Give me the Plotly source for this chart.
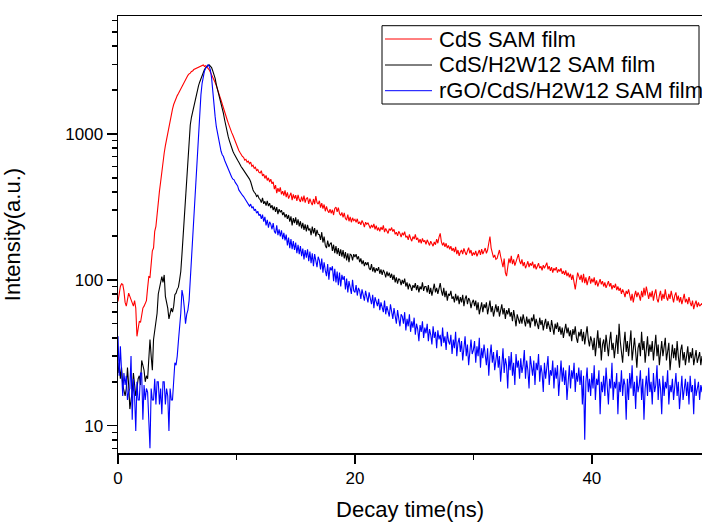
import plotly.graph_objects as go

# ---- data ----
time_step_ns = 0.1
n_points = 500
time_ns = [round(i * time_step_ns, 1) for i in range(n_points)]

series_names = ["CdS SAM film", "CdS/H2W12 SAM film", "rGO/CdS/H2W12 SAM film"]
series_colors = ["#ff0000", "#000000", "#0000ff"]

cds_sam = [
    71, 80, 90, 94, 93, 84, 70, 66, 76, 81,
    77, 73, 70, 66, 72, 64, 41, 46, 52, 51,
    57, 64, 66, 70, 72, 88, 105, 104, 132, 158,
    165, 215, 232, 290, 345, 405, 470, 560, 650, 740,
    830, 920, 1020, 1110, 1230, 1370, 1480, 1590, 1680, 1770,
    1830, 1890, 1960, 2050, 2150, 2220, 2300, 2380, 2450, 2520,
    2580, 2610, 2680, 2700, 2760, 2790, 2820, 2850, 2870, 2880,
    2930, 2960, 2970, 2900, 2930, 2880, 2820, 2750, 2650, 2560,
    2470, 2350, 2250, 2140, 2040, 1950, 1800, 1700, 1590, 1500,
    1420, 1330, 1260, 1190, 1120, 1070, 1020, 980, 930, 880,
    850, 800, 770, 745, 720, 700, 690, 660, 670, 640,
    650, 625, 640, 600, 610, 580, 590, 560, 570, 545,
    540, 560, 515, 530, 495, 520, 480, 500, 468, 490,
    455, 470, 418, 445, 392, 425, 400, 430, 385, 405,
    378, 410, 368, 398, 360, 382, 395, 352, 385, 360,
    380, 348, 382, 355, 342, 372, 345, 378, 338, 362,
    365, 332, 360, 340, 325, 358, 330, 375, 338, 330,
    348, 312, 335, 308, 328, 295, 318, 298, 288, 305,
    285, 302, 278, 308, 315, 292, 312, 285, 276, 290,
    268, 288, 262, 258, 280, 252, 270, 248, 266, 254,
    260, 248, 262, 242, 250, 238, 255, 245, 230, 248,
    240, 246, 232, 225, 238, 228, 242, 222, 235, 218,
    228, 215, 230, 220, 236, 212, 225, 216, 208, 224,
    218, 228, 214, 222, 205, 212, 200, 215, 208, 196,
    210, 202, 214, 195, 200, 188, 205, 192, 184, 198,
    190, 205, 188, 194, 180, 190, 178, 192, 182, 186,
    175, 188, 180, 172, 184, 176, 170, 182, 174, 190,
    178, 196, 208, 182, 172, 180, 168, 178, 165, 172,
    162, 170, 158, 165, 155, 168, 150, 160, 146, 155,
    160, 150, 164, 155, 148, 158, 166, 152, 160, 146,
    154, 148, 158, 145, 152, 160, 148, 162, 150, 156,
    165, 152, 160, 178, 198, 165, 150, 142, 148, 138,
    140, 152, 160, 145, 132, 122, 140, 112, 106, 126,
    140, 130, 146, 128, 138, 125, 132, 142, 150, 135,
    128, 138, 124, 132, 120, 126, 134, 122, 130, 125,
    133, 120, 128, 118, 126, 130, 120, 124, 116, 126,
    120, 128, 131, 118, 124, 115, 122, 112, 120, 116,
    122, 112, 118, 114, 120, 110, 115, 108, 116, 106,
    112, 104, 110, 100, 108, 96, 86, 98, 112, 106,
    100, 108, 96, 110, 95, 104, 92, 100, 106, 94,
    102, 96, 104, 92, 99, 90, 97, 101, 93, 98,
    90, 96, 88, 94, 98, 90, 95, 86, 92, 88,
    94, 85, 90, 84, 88, 80, 86, 82, 76, 84,
    80, 86, 77, 72, 80, 70, 78, 84, 76, 82,
    78, 72, 84, 76, 88, 78, 90, 80, 74, 82,
    76, 84, 72, 80, 86, 74, 70, 78, 84, 72,
    80, 74, 86, 76, 72, 80, 74, 84, 76, 70,
    78, 82, 72, 78, 70, 76, 68, 74, 80, 70,
    74, 68, 76, 70, 66, 72, 63, 68, 72, 65,
    70, 66, 68, 69, 64, 68, 66, 70, 65, 67,
]

cds_h2w12_sam = [
    23, 27, 21, 25, 19, 17, 16, 18, 25, 19,
    13, 15, 17, 23, 19, 16, 18, 21, 22, 19,
    28, 26, 24, 20, 22, 21, 30, 39, 30, 24,
    39, 45, 52, 59, 80, 88, 92, 105, 96, 108,
    77, 70, 64, 54, 60, 64, 60, 66, 79, 81,
    86, 89, 100, 114, 150, 200, 300, 420, 560, 740,
    900, 1150, 1300, 1420, 1560, 1690, 1830, 1990, 2140, 2270,
    2400, 2520, 2640, 2760, 2840, 2900, 2950, 2970, 2930, 2850,
    2700, 2580, 2400, 2180, 2020, 1880, 1760, 1650, 1520, 1380,
    1250, 1130, 1040, 960, 900, 840, 800, 760, 730, 700,
    680, 660, 640, 612, 595, 580, 565, 545, 538, 520,
    508, 490, 470, 430, 413, 398, 390, 372, 380, 362,
    355, 338, 365, 332, 345, 322, 348, 320, 335, 310,
    325, 300, 318, 292, 315, 282, 305, 290, 300, 278,
    290, 268, 282, 262, 278, 250, 272, 236, 265, 245,
    268, 238, 260, 232, 252, 225, 246, 220, 240, 215,
    238, 218, 225, 202, 232, 208, 226, 198, 220, 205,
    204, 188, 212, 180, 198, 172, 165, 186, 168, 176,
    180, 158, 174, 152, 170, 150, 165, 146, 162, 144,
    160, 140, 155, 136, 152, 132, 150, 148, 136, 150,
    143, 150, 138, 145, 132, 140, 128, 136, 124, 132,
    126, 132, 120, 117, 128, 114, 122, 112, 120, 115,
    122, 110, 118, 108, 117, 112, 104, 114, 106, 112,
    103, 110, 100, 108, 96, 104, 94, 102, 100, 92,
    100, 94, 102, 90, 96, 86, 94, 90, 84, 92,
    88, 95, 85, 92, 82, 90, 86, 96, 84, 90,
    90, 82, 92, 80, 88, 78, 86, 94, 82, 88,
    80, 86, 95, 84, 78, 88, 76, 84, 72, 80,
    78, 84, 74, 77, 70, 80, 72, 78, 68, 76,
    70, 79, 66, 74, 78, 68, 75, 72, 64, 70,
    73, 66, 72, 62, 70, 58, 66, 70, 60, 68,
    64, 70, 58, 66, 72, 60, 66, 56, 64, 68,
    60, 66, 56, 62, 68, 58, 64, 54, 62, 58,
    64, 56, 60, 52, 62, 55, 48, 58, 52, 50,
    56, 50, 58, 52, 48, 56, 50, 54, 47, 55,
    52, 58, 48, 54, 50, 46, 55, 49, 53, 45,
    50, 54, 46, 52, 48, 44, 53, 47, 42, 50,
    46, 51, 44, 48, 42, 47, 40, 45, 50, 43,
    47, 41, 45, 38, 46, 42, 48, 40, 37, 44,
    41, 46, 38, 44, 36, 42, 48, 39, 35, 41,
    38, 33, 40, 30, 37, 45, 34, 40, 28, 36,
    39, 32, 42, 35, 30, 38, 44, 33, 37, 29,
    36, 42, 31, 50, 38, 33, 27, 36, 44, 32,
    38, 30, 35, 45, 28, 36, 40, 32, 25, 34,
    37, 30, 44, 33, 38, 27, 35, 41, 30, 36,
    32, 38, 28, 34, 42, 30, 36, 26, 33, 38,
    30, 35, 40, 28, 33, 37, 24, 31, 36, 29,
    34, 28, 38, 30, 25, 33, 36, 28, 32, 26,
    31, 35, 27, 32, 29, 34, 26, 30, 33, 27,
    29, 32, 26, 30, 27, 31, 28, 25, 30, 28,
]

rgo_cds_h2w12_sam = [
    41, 22, 35, 20, 16, 23, 19, 22, 15, 17,
    18, 30, 11, 21, 16, 9.2, 20, 15, 15, 23,
    23, 11, 19, 15, 18, 17, 12, 7, 18, 15,
    15, 21, 14, 20, 20, 14, 18, 12, 20, 20,
    14, 18, 16, 9.2, 18, 15, 15, 22, 27, 26,
    30, 38, 45, 59, 85, 77, 64, 50, 58, 62,
    72, 100, 140, 198, 260, 353, 520, 777, 1050, 1459,
    1850, 2222, 2480, 2700, 2820, 2920, 2970, 2900, 2740, 2420,
    1900, 1650, 1313, 1120, 1000, 910, 830, 760, 720, 700,
    660, 630, 600, 567, 545, 525, 505, 490, 484, 465,
    450, 440, 413, 400, 392, 380, 372, 362, 350, 342,
    335, 320, 330, 310, 318, 298, 305, 286, 295, 275,
    282, 262, 280, 250, 270, 236, 258, 228, 250, 240,
    222, 245, 215, 208, 236, 202, 222, 198, 218, 190,
    210, 186, 204, 172, 195, 165, 190, 162, 184, 160,
    180, 152, 174, 150, 170, 145, 164, 138, 160, 142,
    162, 134, 156, 130, 152, 124, 150, 132, 122, 144,
    136, 118, 140, 112, 132, 116, 106, 128, 100, 122,
    116, 124, 98, 119, 96, 114, 92, 112, 90, 108,
    100, 106, 86, 102, 82, 98, 86, 80, 100, 84,
    82, 92, 78, 88, 84, 74, 86, 80, 72, 84,
    78, 70, 82, 74, 68, 79, 64, 76, 70, 66,
    74, 62, 70, 65, 60, 72, 58, 66, 62, 56,
    68, 60, 54, 64, 58, 50, 62, 55, 48, 58,
    56, 50, 60, 45, 54, 48, 58, 44, 52, 47,
    55, 42, 50, 46, 38, 49, 44, 52, 40, 47,
    43, 50, 38, 46, 42, 36, 48, 40, 44, 34,
    45, 39, 42, 35, 47, 37, 41, 33, 44, 38,
    36, 42, 31, 39, 34, 44, 30, 37, 40, 32,
    38, 28, 35, 41, 30, 36, 26, 34, 39, 31,
    33, 38, 27, 35, 30, 40, 25, 34, 29, 36,
    31, 26, 34, 22, 30, 36, 27, 32, 24, 29,
    33, 25, 30, 20, 28, 34, 23, 29, 26, 18,
    30, 24, 32, 22, 27, 19, 31, 25, 28, 21,
    29, 23, 26, 33, 21, 28, 24, 18, 30, 25,
    22, 28, 19, 27, 24, 31, 20, 26, 23, 17,
    27, 21, 25, 30, 19, 24, 22, 28, 18, 25,
    21, 26, 16, 23, 28, 20, 25, 19, 24, 15,
    22, 26, 18, 24, 21, 27, 17, 23, 20, 25,
    19, 24, 14, 22, 8, 20, 25, 17, 21, 16,
    23, 18, 26, 15, 21, 19, 24, 12, 20, 17,
    22, 16, 25, 19, 14, 21, 18, 27, 15, 20,
    18, 23, 12, 20, 17, 24, 16, 21, 19, 11,
    21, 15, 23, 18, 26, 16, 20, 13, 22, 17,
    19, 24, 15, 21, 11, 18, 22, 16, 25, 17,
    20, 14, 23, 17, 19, 26, 15, 21, 18, 12,
    22, 16, 20, 18, 24, 14, 19, 17, 21, 15,
    18, 23, 16, 20, 13, 19, 22, 15, 18, 21,
    16, 20, 14, 22, 17, 19, 12, 21, 16, 18,
    20, 15, 19, 17, 22, 14, 18, 16, 20, 17,
]

x_tick_vals = [0, 20, 40]
x_tick_text = ["0", "20", "40"]
x_minor_vals = [10, 30]
y_tick_vals = [10, 100, 1000]
y_tick_text = ["10", "100", "1000"]
y_minor_vals = [m * 10 ** k for k in range(0, 4) for m in range(2, 10)]

x_title = "Decay time(ns)"
y_title = "Intensity(a.u.)"

# ---- figure ----
FONT = "Liberation Sans, Arial, sans-serif"
W, H = 702, 523
ML, MR, MT, MB = 118, 0, 16, 70
PW, PH = W - ML - MR, H - MT - MB


def px_x(px):
    return (px - ML) / PW


def px_y(py):
    return (H - MB - py) / PH


fig = go.Figure()
for name, color, ys in zip(series_names, series_colors,
                           [cds_sam, cds_h2w12_sam, rgo_cds_h2w12_sam]):
    fig.add_trace(go.Scatter(x=time_ns, y=ys, mode="lines", name=name,
                             showlegend=False,
                             line=dict(color=color, width=1.1)))

# hand-drawn legend box (tighter line spacing than plotly's legend)
shapes = [dict(type="rect", xref="paper", yref="paper",
               x0=px_x(382), x1=px_x(699), y0=px_y(104), y1=px_y(25.7),
               line=dict(color="black", width=1), fillcolor="white",
               layer="above")]
annotations = []
row_y = [39, 65, 90.7]
for name, color, ry in zip(series_names, series_colors, row_y):
    shapes.append(dict(type="line", xref="paper", yref="paper",
                       x0=px_x(385), x1=px_x(432), y0=px_y(ry), y1=px_y(ry),
                       line=dict(color=color, width=1), layer="above"))
    annotations.append(dict(text=name, xref="paper", yref="paper",
                            x=px_x(437), y=px_y(ry), xanchor="left",
                            yanchor="middle", showarrow=False,
                            font=dict(size=22, family=FONT, color="black")))

fig.update_layout(
    width=W, height=H,
    margin=dict(l=ML, r=MR, t=MT, b=MB),
    paper_bgcolor="white", plot_bgcolor="white",
    font=dict(family=FONT, color="black"),
    showlegend=False,
    shapes=shapes, annotations=annotations,
)
fig.update_xaxes(
    range=[0, 49.3], showline=True, linecolor="black", linewidth=1.5,
    mirror=True, showgrid=False, zeroline=False,
    tickmode="array", tickvals=x_tick_vals, ticktext=x_tick_text,
    ticks="outside", ticklen=9, tickwidth=1.5, tickcolor="black",
    tickfont=dict(size=17), automargin=False,
    minor=dict(tickmode="array", tickvals=x_minor_vals, ticks="outside",
               ticklen=5, tickwidth=1.5, tickcolor="black", showgrid=False),
    title=dict(text=x_title, font=dict(size=22), standoff=14),
)
fig.update_yaxes(
    type="log", range=[0.813, 3.808], showline=True, linecolor="black",
    linewidth=1.5, mirror=False, showgrid=False, zeroline=False,
    tickmode="array", tickvals=y_tick_vals, ticktext=y_tick_text,
    ticks="outside", ticklen=10, tickwidth=1.5, tickcolor="black",
    tickfont=dict(size=17), automargin=False,
    minor=dict(tickmode="array", tickvals=y_minor_vals, ticks="outside",
               ticklen=5, tickwidth=1.5, tickcolor="black", showgrid=False),
    title=dict(text=y_title, font=dict(size=22), standoff=40),
)

fig.write_html(
    "out.html",
    config={"displayModeBar": False, "staticPlot": True},
    post_script="document.body.style.margin='0';"
                "document.body.style.overflow='hidden';",
)
